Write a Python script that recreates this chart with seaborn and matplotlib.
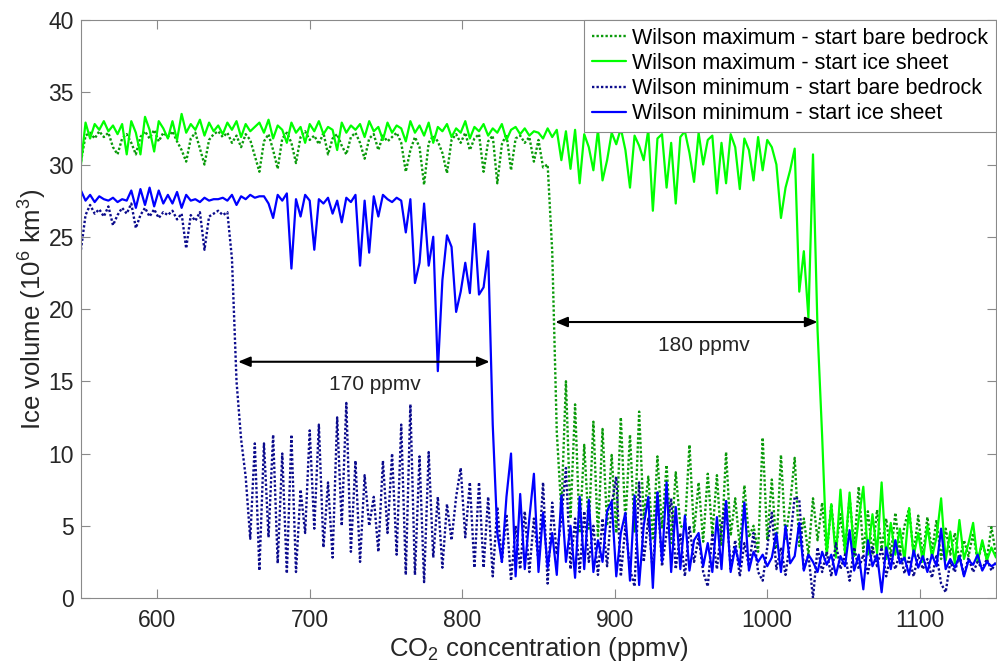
import numpy as np
import pandas as pd
import matplotlib
matplotlib.use("Agg")
import matplotlib.pyplot as plt
import seaborn as sns

# ---------------- data ----------------
co2 = np.arange(550, 1151, 3)  # sample grid, ppmv

max_bare = [
    30.2, 32.0, 32.2, 31.8, 32.3, 31.9, 32.2, 31.2, 30.7, 31.8,   # 550
    32.1, 31.5, 30.7, 31.9, 32.3, 31.8, 32.4, 31.6, 32.2, 31.9,   # 580
    32.3, 31.6, 31.0, 30.2, 31.8, 32.2, 31.1, 30.0, 31.7, 32.1,   # 610
    32.3, 31.9, 32.2, 31.5, 32.0, 31.2, 32.1, 31.7, 30.6, 29.5,   # 640
    31.6, 32.1, 31.0, 29.7, 31.8, 32.2, 31.5, 30.1, 31.9, 32.3,   # 670
    31.7, 32.0, 31.4, 32.2, 30.7, 31.8, 32.1, 31.3, 30.7, 31.9,   # 700
    32.2, 31.5, 30.4, 31.8, 32.1, 31.0, 32.0, 31.6, 31.9, 32.2,   # 730
    31.5, 29.5, 31.0, 31.9, 31.2, 28.6, 31.5, 32.0, 31.6, 30.8,   # 760
    29.4, 31.7, 32.1, 31.5, 32.2, 31.0, 31.8, 32.1, 29.5, 31.6,   # 790
    32.0, 28.7, 31.4, 32.1, 29.6, 31.8, 32.0, 31.5, 31.9, 30.2,   # 820
    31.7, 29.8, 30.0, 24.0, 11.5, 6.0, 15.0, 5.5, 13.4, 4.5,      # 850
    10.6, 4.8, 12.2, 4.2, 11.7, 5.0, 9.9, 4.5, 12.5, 5.2,         # 880
    11.3, 4.6, 12.9, 5.5, 8.4, 4.0, 9.8, 4.8, 9.2, 3.8,           # 910
    8.7, 5.0, 4.8, 10.6, 4.5, 8.0, 3.9, 8.6, 4.4, 8.5,            # 940
    3.6, 10.1, 4.3, 6.9, 3.5, 7.8, 4.2, 5.0, 3.2, 11.1,           # 970
    4.0, 8.2, 3.4, 9.9, 4.1, 6.5, 9.7, 3.6, 5.5, 3.0,             # 1000
    6.9, 4.0, 6.6, 3.0, 6.5, 3.3, 5.8, 3.1, 7.0, 3.5,             # 1030
    7.7, 3.2, 6.0, 3.0, 6.1, 3.4, 5.5, 2.9, 5.9, 3.1,             # 1060
    5.0, 6.2, 3.0, 5.7, 2.8, 5.6, 3.2, 5.4, 2.7, 4.8,             # 1090
    3.0, 4.5, 2.6, 4.0, 2.9, 4.5, 2.5, 3.8, 2.7, 4.9,             # 1120
    3.0,                                                          # 1150
]

max_ice = [
    30.0, 32.9, 31.8, 32.8, 32.4, 33.0, 32.3, 32.7, 32.1, 32.8,   # 550
    30.7, 33.0, 32.2, 30.7, 33.3, 32.4, 30.9, 33.0, 32.5, 31.8,   # 580
    33.0, 31.7, 33.5, 32.2, 32.8, 32.4, 33.1, 32.0, 32.9, 32.3,   # 610
    32.7, 32.1, 32.9, 32.4, 33.0, 31.9, 32.8, 32.3, 32.6, 32.9,   # 640
    32.2, 33.1, 31.8, 32.7, 32.4, 31.5, 32.9, 32.2, 32.6, 31.5,   # 670
    32.8, 32.3, 33.0, 32.1, 32.6, 32.4, 31.0, 32.9, 32.2, 32.7,   # 700
    32.4, 32.8, 31.9, 33.0, 32.3, 32.6, 31.7, 32.9, 32.2, 32.7,   # 730
    32.5, 31.6, 33.0, 32.2, 32.7, 32.0, 32.9, 31.5, 32.6, 32.3,   # 760
    32.8, 31.9, 32.5, 32.2, 33.0, 31.8, 32.6, 32.3, 32.8, 32.0,   # 790
    32.5, 32.2, 32.8, 31.7, 32.4, 32.6, 32.1, 32.5, 32.0, 32.3,   # 820
    32.2, 31.8, 32.5, 31.9, 32.4, 30.3, 32.3, 29.7, 32.4, 28.7,   # 850
    32.1, 31.2, 29.6, 32.4, 28.9, 30.3, 32.2, 31.4, 32.5, 31.0,   # 880
    28.4, 32.0, 31.3, 30.3, 32.4, 26.8, 31.8, 32.1, 28.4, 31.5,   # 910
    27.3, 31.9, 32.3, 30.8, 28.8, 32.2, 30.0, 31.7, 32.0, 28.0,   # 940
    31.5, 28.7, 32.1, 31.2, 28.3, 31.8, 31.0, 28.9, 31.9, 29.6,   # 970
    31.7, 31.2, 30.0, 26.3, 28.4, 29.6, 31.1, 21.2, 24.0, 19.4,   # 1000
    30.7, 18.5, 11.2, 3.0, 6.5, 2.8, 7.5, 3.2, 7.3, 2.9,          # 1030
    5.5, 7.7, 3.0, 5.8, 3.1, 8.0, 2.7, 5.2, 3.0, 4.8,             # 1060
    2.6, 6.2, 2.9, 4.5, 2.5, 5.0, 2.8, 4.2, 6.9, 2.6,             # 1090
    4.6, 2.4, 5.4, 2.7, 3.8, 5.2, 2.5, 4.0, 2.6, 3.5,             # 1120
    2.8,                                                          # 1150
]

min_bare = [
    24.1, 26.5, 27.2, 26.6, 26.9, 26.4, 27.1, 25.8, 26.5, 27.0,   # 550
    26.6, 27.3, 25.6, 26.5, 27.0, 26.4, 26.9, 26.3, 26.7, 26.5,   # 580
    26.8, 26.2, 26.6, 24.2, 26.5, 26.1, 26.7, 24.1, 26.4, 26.6,   # 610
    26.8, 26.5, 26.7, 23.5, 15.0, 11.0, 8.4, 4.1, 10.7, 1.9,      # 640
    10.7, 4.2, 11.3, 2.4, 10.0, 1.7, 11.3, 1.8, 7.5, 4.5,         # 670
    11.6, 4.8, 12.0, 3.5, 8.0, 2.8, 12.5, 5.0, 13.5, 3.2,         # 700
    9.5, 2.5, 8.5, 5.0, 7.0, 3.2, 9.5, 4.5, 10.0, 3.0,            # 730
    12.0, 1.6, 13.4, 1.6, 9.8, 1.1, 10.1, 2.8, 7.0, 2.1,          # 760
    6.5, 4.0, 7.0, 9.0, 4.2, 8.0, 2.1, 8.0, 2.1, 7.0,             # 790
    1.5, 6.3, 2.5, 5.8, 1.2, 5.0, 2.0, 6.0, 1.8, 5.5,             # 820
    2.5, 8.0, 1.0, 6.6, 3.0, 5.5, 9.0, 2.0, 5.5, 1.8,             # 850
    6.0, 2.5, 5.0, 1.6, 5.5, 2.2, 6.5, 8.4, 1.5, 5.0,             # 880
    2.0, 0.8, 8.0, 2.5, 5.5, 1.8, 7.3, 2.2, 4.5, 6.9,             # 910
    2.0, 4.5, 1.5, 5.0, 2.5, 4.2, 1.8, 0.8, 4.5, 2.0,             # 940
    5.0, 6.7, 2.0, 4.0, 1.5, 3.8, 2.2, 4.5, 1.8, 1.2,             # 970
    3.5, 5.9, 2.0, 3.5, 1.6, 4.0, 7.0, 6.8, 2.0, 3.0,             # 1000
    0.0, 3.5, 1.8, 3.2, 1.5, 3.8, 2.0, 3.0, 1.2, 3.5,             # 1030
    2.0, 3.0, 1.7, 3.5, 2.2, 3.5, 1.5, 3.0, 2.0, 3.2,             # 1060
    1.7, 2.8, 1.5, 3.0, 2.0, 2.7, 1.4, 3.0, 1.0, 0.4,             # 1090
    2.5, 1.8, 3.0, 1.6, 2.8, 1.8, 2.5, 2.0, 2.7, 1.9,             # 1120
    2.5,                                                          # 1150
]

min_ice = [
    28.2, 27.5, 27.9, 27.4, 27.8, 27.6, 27.5, 27.7, 27.4, 27.6,   # 550
    27.5, 28.2, 27.0, 28.3, 27.2, 28.4, 27.1, 28.2, 27.3, 27.9,   # 580
    27.3, 28.1, 27.0, 27.9, 27.5, 27.6, 27.4, 27.7, 27.5, 27.6,   # 610
    27.6, 27.7, 27.5, 27.9, 27.2, 27.8, 27.6, 27.9, 27.7, 27.8,   # 640
    27.8, 27.3, 26.3, 27.9, 27.5, 28.0, 22.8, 27.6, 26.4, 27.9,   # 670
    27.5, 24.1, 27.6, 27.3, 27.7, 26.6, 27.5, 26.0, 27.7, 27.4,   # 700
    27.9, 23.0, 27.5, 23.9, 27.8, 26.4, 27.9, 27.6, 27.4, 27.7,   # 730
    27.5, 25.3, 27.6, 21.8, 23.2, 27.3, 23.0, 25.0, 15.7, 22.0,   # 760
    25.1, 24.3, 19.8, 21.2, 23.2, 21.1, 25.9, 21.0, 21.5, 24.0,   # 790
    12.0, 4.5, 2.5, 7.0, 10.0, 1.5, 7.2, 2.0, 5.5, 8.6,           # 820
    1.8, 5.9, 2.1, 4.5, 1.6, 7.1, 2.5, 5.0, 1.4, 7.0,             # 850
    2.0, 6.8, 1.8, 4.0, 2.5, 6.0, 6.7, 1.5, 4.5, 5.9,             # 880
    1.2, 7.1, 0.9, 5.0, 7.0, 0.7, 7.3, 2.5, 8.0, 1.8,             # 910
    6.3, 2.0, 5.7, 1.9, 4.0, 4.5, 2.2, 3.8, 1.8, 5.6,             # 940
    2.0, 6.7, 1.8, 3.5, 2.2, 6.6, 1.9, 3.2, 2.5, 3.0,             # 970
    2.2, 2.8, 4.5, 1.8, 5.0, 2.4, 2.9, 5.2, 1.9, 3.0,             # 1000
    2.5, 1.8, 3.2, 2.3, 3.0, 1.6, 2.9, 2.2, 4.7, 1.9,             # 1030
    3.0, 0.6, 4.0, 2.2, 3.0, 0.4, 3.5, 2.0, 4.0, 2.4,             # 1060
    2.8, 1.6, 3.3, 2.1, 2.9, 1.8, 3.0, 2.2, 4.8, 2.0,             # 1090
    2.7, 2.1, 2.9, 1.5, 2.6, 2.3, 3.0, 1.9, 2.5, 2.2,             # 1120
    2.4,                                                          # 1150
]

labels = [
    "Wilson maximum - start bare bedrock",
    "Wilson maximum - start ice sheet",
    "Wilson minimum - start bare bedrock",
    "Wilson minimum - start ice sheet",
]
xticks = [600, 700, 800, 900, 1000, 1100]
yticks = [0, 5, 10, 15, 20, 25, 30, 35, 40]

# annotations: (left ppmv, right ppmv, level, text, text x, text y)
span_low = (653, 818, 16.35, "170 ppmv", 742.5, 14.75)
span_high = (861, 1033, 19.1, "180 ppmv", 958.6, 17.5)

# ---------------- styling ----------------
sns.set_style("ticks")
plt.rcParams["font.family"] = ["Liberation Sans", "DejaVu Sans"]
plt.rcParams["mathtext.default"] = "regular"

text_col = "#262626"
axis_col = "#8a8a8a"

fig = plt.figure(figsize=(9.97, 6.69), dpi=100)
ax = fig.add_axes([0.0812, 0.1061, 0.9178, 0.864])

styles = [
    (max_bare, "#0a9a0a", (0, (1, 0.9)), 1.7),
    (max_ice, "#00ff00", "-", 1.6),
    (min_bare, "#0b0b8c", (0, (1, 0.9)), 1.7),
    (min_ice, "#0000ff", "-", 1.6),
]

for (vals, col, ls, lw), lab in zip(styles, labels):
    df = pd.DataFrame({"co2": co2, "ice": vals})
    sns.lineplot(data=df, x="co2", y="ice", ax=ax, color=col, linestyle=ls,
                 linewidth=lw, label=lab, estimator=None, sort=False)

for (x0, x1, yl, txt, tx, ty) in (span_low, span_high):
    ax.annotate("", xy=(x0, yl), xytext=(x1, yl),
                arrowprops=dict(arrowstyle="<|-|>,head_length=0.6,head_width=0.25",
                                color="black", lw=1.5, shrinkA=0, shrinkB=0,
                                mutation_scale=12))
    ax.text(tx, ty, txt, ha="center", va="center", fontsize=15, color=text_col)

ax.set_xlim(550, 1150)
ax.set_ylim(0, 40)
ax.set_xticks(xticks)
ax.set_yticks(yticks)
ax.tick_params(direction="in", length=6.5, width=0.8, top=True, right=True,
               labelsize=16.5, labelcolor=text_col, color=axis_col)
ax.tick_params(axis="x", pad=8)
ax.tick_params(axis="y", pad=5)
for sp in ax.spines.values():
    sp.set_visible(True)
    sp.set_color(axis_col)
    sp.set_linewidth(0.8)

ax.set_xlabel("CO$_2$ concentration (ppmv)", fontsize=18.5, color=text_col, labelpad=2)
ax.set_ylabel("Ice volume (10$^6$ km$^3$)", fontsize=18.5, color=text_col, labelpad=0)

leg = ax.legend(loc="upper right", fontsize=15.5, frameon=True, fancybox=False,
                framealpha=1, edgecolor=axis_col, borderaxespad=0,
                handlelength=1.6, handletextpad=0.3, labelspacing=0.2,
                borderpad=0.35)
leg.get_frame().set_linewidth(0.8)
for t in leg.get_texts():
    t.set_color("black")

fig.savefig("out.png", dpi=100)
